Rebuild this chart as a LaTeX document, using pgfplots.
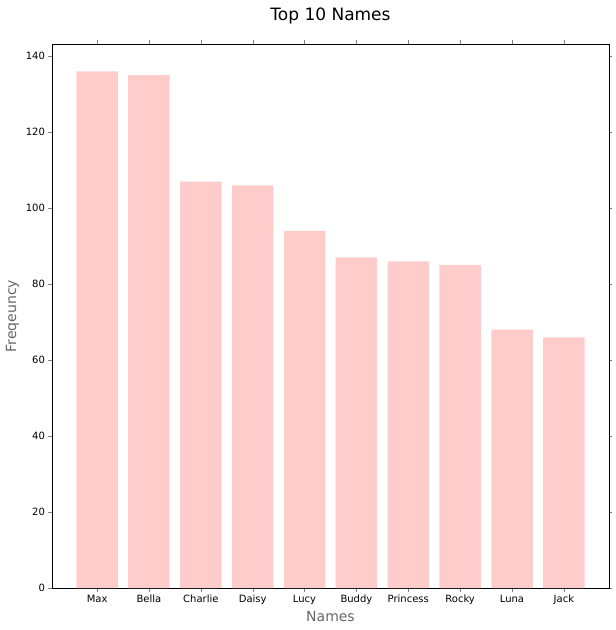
\documentclass[border=0pt]{standalone}
\usepackage{pgfplots}
\pgfplotsset{compat=1.18}
\usepackage{fontspec}
\setmainfont{DejaVu Sans}
\definecolor{barpink}{RGB}{255,204,204}
\begin{document}
\begin{tikzpicture}
\begin{axis}[
  scale only axis, width=557pt, height=544pt,
  xmin=-0.87, xmax=9.87, ymin=0, ymax=143.2,
  xtick=data,
  xticklabels={Max,Bella,Charlie,Daisy,Lucy,Buddy,Princess,Rocky,Luna,Jack},
  ytick={0,20,40,60,80,100,120,140},
  tick label style={font=\fontsize{10}{12}\selectfont},
  /pgf/number format/assume math mode=true,
  tick align=outside, major tick length=3.5pt,
  xlabel={Names}, ylabel={Freqeuncy},
  label style={font=\fontsize{14}{16}\selectfont, text=black!60},
  title={Top 10 Names}, title style={font=\fontsize{17}{20}\selectfont, yshift=10pt},
  axis line style={black}, 
]
\addplot[ybar, bar width=0.8, fill=barpink, draw=none, bar shift=0pt]
coordinates {(0,136) (1,135) (2,107) (3,106) (4,94) (5,87) (6,86) (7,85) (8,68) (9,66)};
\end{axis}
\path (current axis.south west) ++(-52pt,-42pt) rectangle ++(616pt,630pt);
\end{tikzpicture}
\end{document}
